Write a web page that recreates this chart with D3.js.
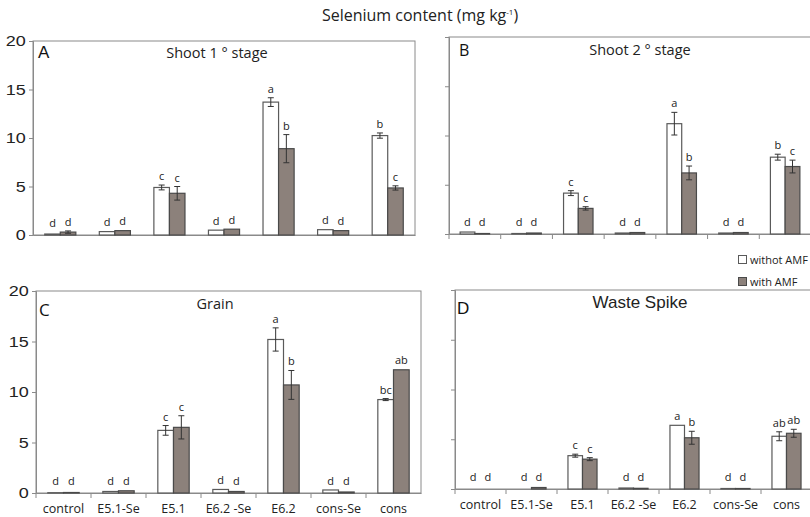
<!DOCTYPE html>
<html>
<head>
<meta charset="utf-8">
<script src="https://cdn.jsdelivr.net/npm/d3@7"></script>
<style>
  body { margin: 0; background: #fff; }
  svg { display: block; }
  .tick-label { font-family: "Liberation Sans", Arial, sans-serif; font-size: 15px; fill: #222; }
  .cat-label { font-family: "Open Sans", sans-serif; font-size: 12.5px; fill: #222; }
  .sig { font-family: "Open Sans", sans-serif; font-size: 11px; fill: #222; }
</style>
</head>
<body>
<svg id="chart" width="810" height="517"></svg>
<script>
// ---- data ----
const categories = ['control', 'E5.1-Se', 'E5.1', 'E6.2 -Se', 'E6.2', 'cons-Se', 'cons'];
const series = ['withot AMF', 'with AMF'];
const yTicks = [0, 5, 10, 15, 20];

// A: shoot 1° stage
const shoot1Without    = [0.1, 0.35, 4.9, 0.5, 13.7, 0.55, 10.25];
const shoot1WithoutErr = [0.02, 0.03, 0.25, 0.03, 0.45, 0.03, 0.27];
const shoot1With       = [0.3, 0.45, 4.3, 0.6, 8.9, 0.45, 4.85];
const shoot1WithErr    = [0.12, 0.05, 0.7, 0.05, 1.45, 0.03, 0.22];
const shoot1Letters    = [['d','d'], ['d','d'], ['c','c'], ['d','d'], ['a','b'], ['d','d'], ['b','c']];

// B: shoot 2° stage
const shoot2Without    = [0.2, 0.05, 4.15, 0.1, 11.2, 0.1, 7.8];
const shoot2WithoutErr = [0.05, 0.01, 0.25, 0.01, 1.15, 0.01, 0.3];
const shoot2With       = [0.05, 0.1, 2.6, 0.15, 6.2, 0.15, 6.85];
const shoot2WithErr    = [0.01, 0.01, 0.17, 0.01, 0.7, 0.01, 0.65];
const shoot2Letters    = [['d','d'], ['d','d'], ['c','c'], ['d','d'], ['a','b'], ['d','d'], ['b','c']];

// C: grain
const grainWithout    = [0.03, 0.15, 6.2, 0.35, 15.2, 0.3, 9.25];
const grainWithoutErr = [0.01, 0.02, 0.48, 0.03, 1.15, 0.03, 0.1];
const grainWith       = [0.05, 0.22, 6.5, 0.15, 10.7, 0.1, 12.2];
const grainWithErr    = [0.01, 0.05, 1.15, 0.02, 1.43, 0.01, 0.05];
const grainLetters    = [['d','d'], ['d','d'], ['c','c'], ['d','d'], ['a','b'], ['d','d'], ['bc','ab']];

// D: waste spike
const spikeWithout    = [0, 0, 3.35, 0.1, 6.4, 0.05, 5.3];
const spikeWithoutErr = [0, 0, 0.15, 0.01, 0.03, 0.01, 0.45];
const spikeWith       = [0, 0.15, 3.0, 0.07, 5.15, 0.05, 5.6];
const spikeWithErr    = [0, 0.03, 0.15, 0.01, 0.65, 0.01, 0.4];
const spikeLetters    = [['d','d'], ['d','d'], ['c','c'], ['d','d'], ['a','b'], ['d','d'], ['ab','ab']];

// ---- layout ----
const svg = d3.select('#chart');
const colors = { fill: ['#ffffff', '#8c817b'], stroke: ['#5a5a5a', '#4a4a4a'] };

const panels = [
  { tag: 'A', title: 'Shoot 1 \u00b0 stage', vals: [shoot1Without, shoot1With], errs: [shoot1WithoutErr, shoot1WithErr], letters: shoot1Letters,
    x0: 33, x1: 415, top: 41, base: 235, yLabels: true, xLabels: false, xTicks: false,
    tagPos: [38, 58], tagFont: '"Liberation Sans", Arial', tagSize: 17, titlePos: [217, 58], titleFont: '"Open Sans"', titleSize: 14.5 },
  { tag: 'B', title: 'Shoot 2 \u00b0 stage', vals: [shoot2Without, shoot2With], errs: [shoot2WithoutErr, shoot2WithErr], letters: shoot2Letters,
    x0: 449, x1: 811, top: 37, base: 234, yLabels: false, xLabels: false, xTicks: true,
    tagPos: [459, 56], tagFont: '"Open Sans"', tagSize: 16, titlePos: [640, 55], titleFont: '"Open Sans"', titleSize: 14.5 },
  { tag: 'C', title: 'Grain', vals: [grainWithout, grainWith], errs: [grainWithoutErr, grainWithErr], letters: grainLetters,
    x0: 36, x1: 421, top: 291, base: 493, yLabels: true, xLabels: true, xTicks: true,
    tagPos: [39, 316], tagFont: '"Open Sans"', tagSize: 17, titlePos: [215, 309], titleFont: '"Open Sans"', titleSize: 14.5 },
  { tag: 'D', title: 'Waste Spike', vals: [spikeWithout, spikeWith], errs: [spikeWithoutErr, spikeWithErr], letters: spikeLetters,
    x0: 455, x1: 812, top: 290, base: 489, yLabels: false, xLabels: true, xTicks: true,
    tagPos: [457, 314], tagFont: '"Liberation Sans", Arial', tagSize: 17, titlePos: [640, 308], titleFont: '"Liberation Sans", Arial', titleSize: 17 }
];

// overall title
const title = svg.append('text')
  .attr('x', 420).attr('y', 21).attr('text-anchor', 'middle')
  .style('font-family', '"Open Sans", sans-serif').style('font-size', '16px').style('fill', '#222');
title.append('tspan').text('Selenium content (mg kg');
title.append('tspan').text('-1').attr('dy', -6).style('font-size', '8px');
title.append('tspan').text(')').attr('dy', 6);

panels.forEach(p => drawPanel(p));

function drawPanel(p){
  const g = svg.append('g');
  const x = d3.scaleBand().domain(categories).range([p.x0, p.x1]).padding(0);
  const inner = d3.scaleBand().domain(series).range([x.bandwidth() * 0.215, x.bandwidth() * 0.785]).padding(0);
  const y = d3.scaleLinear().domain([0, 20]).range([p.base, p.top]);

  // frame
  g.append('rect').attr('x', p.x0).attr('y', p.top).attr('width', p.x1 - p.x0).attr('height', p.base - p.top)
    .attr('fill', 'none').attr('stroke', '#8a8a8a').attr('stroke-width', 1);

  // y axis
  const yAxis = d3.axisLeft(y).tickValues(yTicks).tickSize(4).tickPadding(4);
  const ya = g.append('g').attr('transform', `translate(${p.x0},0)`).call(yAxis);
  ya.select('.domain').attr('stroke', '#8a8a8a');
  ya.selectAll('.tick line').attr('stroke', '#8a8a8a');
  ya.selectAll('.tick text').attr('class', 'tick-label').attr('fill', null)
    .attr('transform', 'scale(1.2,1)').attr('x', -6)
    .style('display', p.yLabels ? null : 'none');

  // x axis
  const xAxis = d3.axisBottom(x).tickSize(0).tickPadding(11);
  const xa = g.append('g').attr('transform', `translate(0,${p.base})`).call(xAxis);
  xa.select('.domain').attr('stroke', '#8a8a8a');
  xa.selectAll('.tick text').attr('class', 'cat-label').attr('fill', null).style('display', p.xLabels ? null : 'none');
  if (p.xTicks) {
    g.append('g').selectAll('line').data(categories).join('line')
      .attr('x1', d => x(d)).attr('x2', d => x(d))
      .attr('y1', p.base).attr('y2', p.base + 5).attr('stroke', '#8a8a8a');
  }

  // bars
  series.forEach((s, si) => {
    const rows = categories.map((c, ci) => ({ c, v: p.vals[si][ci], e: p.errs[si][ci], l: p.letters[ci][si] }));
    const bx = d => x(d.c) + inner(s);
    g.append('g').selectAll('rect').data(rows).join('rect')
      .attr('x', bx).attr('width', inner.bandwidth())
      .attr('y', d => y(d.v)).attr('height', d => y(0) - y(d.v))
      .attr('fill', colors.fill[si]).attr('stroke', colors.stroke[si]).attr('stroke-width', 1.2);

    const eb = g.append('g').attr('stroke', '#333').attr('stroke-width', 1);
    const cx = d => bx(d) + inner.bandwidth() / 2;
    const withErr = rows.filter(d => d.e > 0.05);
    eb.selectAll('line.v').data(withErr).join('line').attr('class', 'v')
      .attr('x1', cx).attr('x2', cx).attr('y1', d => y(d.v + d.e)).attr('y2', d => y(d.v - d.e));
    eb.selectAll('line.t').data(withErr).join('line').attr('class', 't')
      .attr('x1', d => cx(d) - 3).attr('x2', d => cx(d) + 3).attr('y1', d => y(d.v + d.e)).attr('y2', d => y(d.v + d.e));
    eb.selectAll('line.b').data(withErr).join('line').attr('class', 'b')
      .attr('x1', d => cx(d) - 3).attr('x2', d => cx(d) + 3).attr('y1', d => y(d.v - d.e)).attr('y2', d => y(d.v - d.e));

    g.append('g').selectAll('text').data(rows).join('text').attr('class', 'sig')
      .attr('x', cx).attr('y', d => Math.min(y(d.v + d.e) - 5, p.base - 8))
      .attr('text-anchor', 'middle').style('fill', '#222').text(d => d.l);
  });

  // tag + title
  g.append('text').attr('x', p.tagPos[0]).attr('y', p.tagPos[1]).text(p.tag)
    .style('font-family', p.tagFont + ', sans-serif').style('font-size', p.tagSize + 'px').style('fill', '#111');
  g.append('text').attr('x', p.titlePos[0]).attr('y', p.titlePos[1]).attr('text-anchor', 'middle').text(p.title)
    .style('font-family', p.titleFont + ', sans-serif').style('font-size', p.titleSize + 'px').style('fill', '#222');
}

// legend
const legend = svg.append('g').attr('transform', 'translate(738,255)');
series.forEach((s, i) => {
  const row = legend.append('g').attr('transform', `translate(0,${i * 22})`);
  row.append('rect').attr('x', 0.5).attr('y', 0.5).attr('width', 8).attr('height', 8)
    .attr('fill', colors.fill[i]).attr('stroke', colors.stroke[i]);
  row.append('text').attr('x', 12).attr('y', 8.5).text(s)
    .style('font-family', '"Open Sans", sans-serif').style('font-size', '11px').style('fill', '#222');
});
</script>
</body>
</html>
